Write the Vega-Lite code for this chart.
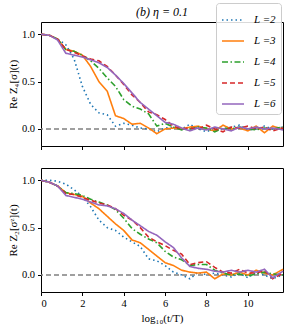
{
"$schema": "https://vega.github.io/schema/vega-lite/v6.json",
"padding": {"left": 6, "top": 2, "right": 4, "bottom": 2},
"config": {
 "font": "Liberation Serif",
 "view": {"stroke": "black", "strokeWidth": 1},
 "axis": {"domain": false, "grid": false, "ticks": true, "tickColor": "black", "tickSize": 3.5, "labelFont": "Liberation Serif", "labelFontSize": 10.5, "labelColor": "black", "titleFont": "Liberation Serif", "titleFontSize": 11, "titleFontWeight": "normal", "titleColor": "black", "labelPadding": 3, "titlePadding": 3}
},
"datasets": {
 "top": [
  {"x":0,"L2":1.0,"L3":1.0,"L4":1.0,"L5":1.0,"L6":1.0},
  {"x":0.4,"L2":0.99,"L3":0.99,"L4":0.99,"L5":0.99,"L6":0.99},
  {"x":0.8,"L2":0.95,"L3":0.95,"L4":0.95,"L5":0.95,"L6":0.94},
  {"x":1.2,"L2":0.89,"L3":0.84,"L4":0.84,"L5":0.84,"L6":0.80},
  {"x":1.6,"L2":0.74,"L3":0.82,"L4":0.82,"L5":0.81,"L6":0.78},
  {"x":2.0,"L2":0.45,"L3":0.78,"L4":0.78,"L5":0.77,"L6":0.76},
  {"x":2.4,"L2":0.26,"L3":0.66,"L4":0.72,"L5":0.74,"L6":0.73},
  {"x":2.8,"L2":0.17,"L3":0.50,"L4":0.64,"L5":0.72,"L6":0.70},
  {"x":3.2,"L2":0.15,"L3":0.40,"L4":0.54,"L5":0.66,"L6":0.65},
  {"x":3.6,"L2":0.03,"L3":0.14,"L4":0.45,"L5":0.57,"L6":0.57},
  {"x":4.0,"L2":0.06,"L3":0.11,"L4":0.31,"L5":0.47,"L6":0.48},
  {"x":4.4,"L2":0.04,"L3":0.05,"L4":0.24,"L5":0.36,"L6":0.38},
  {"x":4.8,"L2":0.01,"L3":0.06,"L4":0.21,"L5":0.28,"L6":0.28},
  {"x":5.2,"L2":0.0,"L3":0.01,"L4":0.16,"L5":0.18,"L6":0.21},
  {"x":5.6,"L2":-0.03,"L3":-0.05,"L4":0.03,"L5":0.15,"L6":0.14},
  {"x":6.0,"L2":0.01,"L3":0.0,"L4":0.06,"L5":0.10,"L6":0.07},
  {"x":6.4,"L2":0.02,"L3":0.01,"L4":0.02,"L5":0.03,"L6":0.05},
  {"x":6.8,"L2":0.0,"L3":0.0,"L4":-0.01,"L5":0.0,"L6":0.01},
  {"x":7.2,"L2":0.05,"L3":0.02,"L4":0.0,"L5":0.01,"L6":-0.02},
  {"x":7.6,"L2":0.0,"L3":0.03,"L4":0.02,"L5":0.0,"L6":0.01},
  {"x":8.0,"L2":-0.03,"L3":0.0,"L4":0.01,"L5":0.04,"L6":-0.01},
  {"x":8.4,"L2":0.01,"L3":-0.02,"L4":-0.03,"L5":0.0,"L6":0.02},
  {"x":8.8,"L2":0.0,"L3":0.04,"L4":0.01,"L5":-0.03,"L6":0.0},
  {"x":9.2,"L2":0.02,"L3":0.0,"L4":0.0,"L5":0.02,"L6":-0.02},
  {"x":9.6,"L2":0.04,"L3":0.01,"L4":0.02,"L5":0.01,"L6":0.02},
  {"x":10.0,"L2":-0.01,"L3":-0.02,"L4":0.0,"L5":0.03,"L6":0.0},
  {"x":10.4,"L2":0.0,"L3":0.03,"L4":-0.01,"L5":0.0,"L6":0.02},
  {"x":10.8,"L2":0.03,"L3":-0.04,"L4":0.01,"L5":0.02,"L6":0.0},
  {"x":11.2,"L2":0.0,"L3":0.03,"L4":0.0,"L5":-0.02,"L6":0.01},
  {"x":11.7,"L2":0.02,"L3":0.0,"L4":0.02,"L5":0.01,"L6":-0.01}
 ],
 "bottom": [
  {"x":0,"L2":1.0,"L3":1.0,"L4":1.0,"L5":1.0,"L6":1.0},
  {"x":0.4,"L2":1.0,"L3":0.98,"L4":0.98,"L5":0.98,"L6":0.98},
  {"x":0.8,"L2":0.99,"L3":0.94,"L4":0.94,"L5":0.94,"L6":0.94},
  {"x":1.2,"L2":0.96,"L3":0.87,"L4":0.87,"L5":0.86,"L6":0.84},
  {"x":1.6,"L2":0.90,"L3":0.85,"L4":0.86,"L5":0.85,"L6":0.82},
  {"x":2.0,"L2":0.83,"L3":0.83,"L4":0.84,"L5":0.82,"L6":0.80},
  {"x":2.4,"L2":0.72,"L3":0.76,"L4":0.80,"L5":0.79,"L6":0.77},
  {"x":2.8,"L2":0.58,"L3":0.70,"L4":0.77,"L5":0.76,"L6":0.74},
  {"x":3.2,"L2":0.50,"L3":0.62,"L4":0.74,"L5":0.74,"L6":0.73},
  {"x":3.6,"L2":0.47,"L3":0.54,"L4":0.69,"L5":0.70,"L6":0.70},
  {"x":4.0,"L2":0.40,"L3":0.47,"L4":0.60,"L5":0.63,"L6":0.65},
  {"x":4.4,"L2":0.35,"L3":0.37,"L4":0.49,"L5":0.58,"L6":0.58},
  {"x":4.8,"L2":0.30,"L3":0.34,"L4":0.43,"L5":0.50,"L6":0.52},
  {"x":5.2,"L2":0.17,"L3":0.27,"L4":0.38,"L5":0.40,"L6":0.46},
  {"x":5.6,"L2":0.15,"L3":0.20,"L4":0.34,"L5":0.35,"L6":0.42},
  {"x":6.0,"L2":0.10,"L3":0.13,"L4":0.25,"L5":0.31,"L6":0.35},
  {"x":6.4,"L2":0.03,"L3":0.10,"L4":0.19,"L5":0.26,"L6":0.29},
  {"x":6.8,"L2":0.0,"L3":0.05,"L4":0.16,"L5":0.22,"L6":0.18},
  {"x":7.2,"L2":-0.04,"L3":0.03,"L4":0.10,"L5":0.11,"L6":0.09},
  {"x":7.6,"L2":0.03,"L3":0.02,"L4":0.11,"L5":0.13,"L6":0.07},
  {"x":8.0,"L2":0.0,"L3":0.03,"L4":0.11,"L5":0.14,"L6":0.06},
  {"x":8.4,"L2":0.02,"L3":-0.04,"L4":0.05,"L5":0.08,"L6":0.04},
  {"x":8.8,"L2":0.0,"L3":0.01,"L4":0.02,"L5":0.03,"L6":0.03},
  {"x":9.2,"L2":-0.02,"L3":0.0,"L4":0.0,"L5":0.02,"L6":0.05},
  {"x":9.6,"L2":0.02,"L3":0.03,"L4":0.01,"L5":0.06,"L6":0.03},
  {"x":10.0,"L2":-0.03,"L3":0.0,"L4":-0.01,"L5":0.02,"L6":0.05},
  {"x":10.4,"L2":0.03,"L3":0.05,"L4":0.01,"L5":0.02,"L6":0.03},
  {"x":10.8,"L2":0.0,"L3":0.02,"L4":0.03,"L5":0.05,"L6":0.06},
  {"x":11.2,"L2":-0.04,"L3":0.0,"L4":0.01,"L5":-0.04,"L6":-0.03},
  {"x":11.7,"L2":0.0,"L3":0.06,"L4":0.0,"L5":0.02,"L6":0.04}
 ]
},
"spacing": 16,
"resolve": {"legend": {"color": "independent", "strokeDash": "independent"}},
"vconcat": [
 {
  "width": 242, "height": 124,
  "title": {"text": "(b) η = 0.1", "fontStyle": "italic", "fontWeight": "normal", "fontSize": 12, "anchor": "middle", "frame": "group", "offset": 4, "dy": 20, "font": "Liberation Serif"},
  "layer": [
   {"data": {"values": [{"z": 0}]}, "mark": {"type": "rule", "color": "#808080", "strokeDash": [5, 3], "strokeWidth": 1.5},
    "encoding": {"y": {"field": "z", "type": "quantitative", "scale": {"domain": [-0.18, 1.13]}}}},
   {"data": {"name": "top"},
    "transform": [{"fold": ["L2", "L3", "L4", "L5", "L6"], "as": ["L", "v"]}],
    "mark": {"type": "line", "strokeWidth": 1.6},
    "encoding": {
     "x": {"field": "x", "type": "quantitative", "scale": {"domain": [0, 11.7], "nice": false, "zero": false}, "axis": {"values": [0, 2, 4, 6, 8, 10], "labels": false, "title": null}},
     "y": {"field": "v", "type": "quantitative", "scale": {"domain": [-0.18, 1.13], "nice": false, "zero": false}, "axis": {"values": [0, 0.5, 1], "format": ".1f", "title": "Re Z₄[σ](t)"}},
     "color": {"field": "L", "type": "nominal", "scale": {"domain": ["L2", "L3", "L4", "L5", "L6"], "range": ["#1f77b4", "#ff7f0e", "#2ca02c", "#d62728", "#9467bd"]},
      "legend": {"orient": "none", "legendX": 175, "legendY": -19, "title": null, "symbolType": "stroke", "symbolSize": 484, "symbolStrokeWidth": 1.6, "labelFont": "Liberation Serif", "labelFontStyle": "italic", "labelFontSize": 11, "labelColor": "black", "fillColor": "rgba(255,255,255,0.85)", "strokeColor": "#cccccc", "padding": 5, "rowPadding": 4, "labelOffset": 9, "cornerRadius": 3, "labelExpr": "'L =' + substring(datum.label, 1)"}},
     "strokeDash": {"field": "L", "type": "nominal", "scale": {"domain": ["L2", "L3", "L4", "L5", "L6"], "range": [[1.5, 3], [1, 0], [6, 2.5, 1.5, 2.5], [5, 3], [1, 0]]},
      "legend": {"orient": "none", "legendX": 175, "legendY": -19, "title": null, "symbolType": "stroke", "symbolSize": 484, "symbolStrokeWidth": 1.6, "labelFont": "Liberation Serif", "labelFontStyle": "italic", "labelFontSize": 11, "labelColor": "black", "fillColor": "rgba(255,255,255,0.85)", "strokeColor": "#cccccc", "padding": 5, "rowPadding": 4, "labelOffset": 9, "cornerRadius": 3, "labelExpr": "'L =' + substring(datum.label, 1)"}}
    }}
  ]
 },
 {
  "width": 242, "height": 124,
  "layer": [
   {"data": {"values": [{"z": 0}]}, "mark": {"type": "rule", "color": "#808080", "strokeDash": [5, 3], "strokeWidth": 1.5},
    "encoding": {"y": {"field": "z", "type": "quantitative", "scale": {"domain": [-0.18, 1.13]}}}},
   {"data": {"name": "bottom"},
    "transform": [{"fold": ["L2", "L3", "L4", "L5", "L6"], "as": ["L", "v"]}],
    "mark": {"type": "line", "strokeWidth": 1.6},
    "encoding": {
     "x": {"field": "x", "type": "quantitative", "scale": {"domain": [0, 11.7], "nice": false, "zero": false}, "axis": {"values": [0, 2, 4, 6, 8, 10], "title": "log₁₀(t/T)"}},
     "y": {"field": "v", "type": "quantitative", "scale": {"domain": [-0.18, 1.13], "nice": false, "zero": false}, "axis": {"values": [0, 0.5, 1], "format": ".1f", "title": "Re Z₂[σᶻ](t)"}},
     "color": {"field": "L", "type": "nominal", "scale": {"domain": ["L2", "L3", "L4", "L5", "L6"], "range": ["#1f77b4", "#ff7f0e", "#2ca02c", "#d62728", "#9467bd"]}, "legend": null},
     "strokeDash": {"field": "L", "type": "nominal", "scale": {"domain": ["L2", "L3", "L4", "L5", "L6"], "range": [[1.5, 3], [1, 0], [6, 2.5, 1.5, 2.5], [5, 3], [1, 0]]}, "legend": null}
    }}
  ]
 }
]
}
